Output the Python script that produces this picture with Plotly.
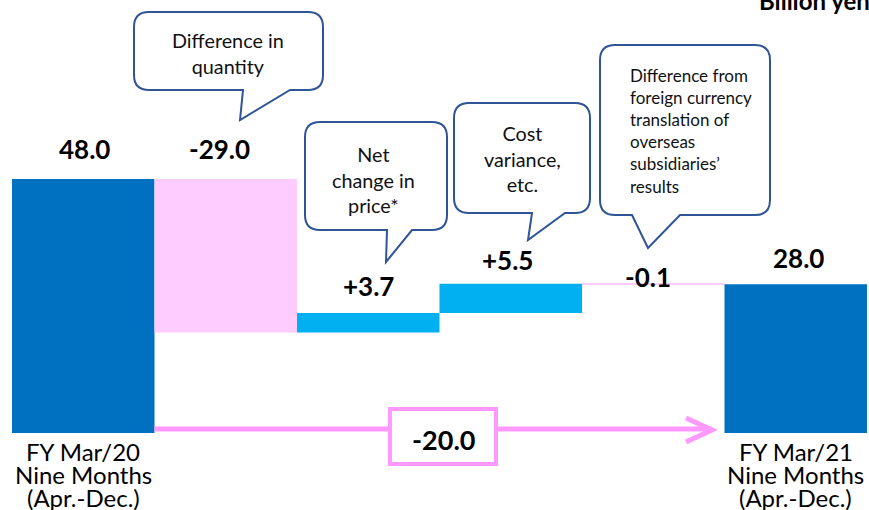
import plotly.graph_objects as go

# ---------------- data ----------------
categories = ["FY Mar/20|Nine Months|(Apr.-Dec.)", "Difference in quantity",
              "Net change in price*", "Cost variance, etc.",
              "Difference from foreign currency translation", "FY Mar/21|Nine Months|(Apr.-Dec.)"]
values = [48.0, -29.0, 3.7, 5.5, -0.1, 28.0]
measures = ["absolute", "relative", "relative", "relative", "relative", "total"]
value_labels = ["48.0", "-29.0", "+3.7", "+5.5", "-0.1", "28.0"]
total_change = "-20.0"
unit_label = "Billion yen"
callout_texts = ["Difference in<br>quantity",
                 "Net<br>change in<br>price*",
                 "Cost<br>variance,<br>etc.",
                 "Difference from<br>foreign currency<br>translation of<br>overseas<br>subsidiaries’<br>results"]

DARK = "#0070C0"
LIGHT = "#00B0F0"
PINK = "#FFCCFF"
ARROW = "#FF99FF"
EDGE = "#2F5597"
FONT = "Lato"

W, H = 869, 510
ML, MR = 12, 2
PW = W - ML - MR
YMIN, YMAX = -14.55, 81.85

def px(xp):
    return (xp - ML) / PW

def py(yp):
    return (H - yp) / H

fig = go.Figure()
fig.add_trace(go.Waterfall(
    x=list(range(len(values))), y=values, measure=measures,
    increasing=dict(marker=dict(color=LIGHT, line=dict(width=0))),
    decreasing=dict(marker=dict(color=PINK, line=dict(width=0))),
    totals=dict(marker=dict(color=DARK, line=dict(width=0))),
    connector=dict(visible=False), width=[1.0] * 6,
    hoverinfo="skip", showlegend=False,
))

# cumulative tops for labels
tops = []
run = 0.0
for v, m in zip(values, measures):
    if m == "absolute":
        prev, run = 0.0, v
    elif m == "total":
        prev = 0.0
    else:
        prev, run = run, run + v
    tops.append(max(prev, run))

yshifts = [30, 30, 27, 24, 7, 26]
xshifts = [1, -6, 0, -3, -5, 3]
annotations = []
for i, (t, lab) in enumerate(zip(tops, value_labels)):
    annotations.append(dict(x=i, y=t, xref="x", yref="y", text="<b>%s</b>" % lab,
                            showarrow=False, xanchor="center", yanchor="middle",
                            yshift=yshifts[i], xshift=xshifts[i],
                            font=dict(family=FONT, size=26, color="black")))

# bottom category labels (one annotation per line for tight line spacing)
line_y = [451, 474, 497]
for i in (0, 5):
    for k, ln in enumerate(categories[i].split("|")):
        annotations.append(dict(x=i, y=py(line_y[k]), xref="x", yref="paper", text=ln,
                                showarrow=False, xanchor="center", yanchor="middle",
                                font=dict(family=FONT, size=24, color="black")))

# unit label (partly cut by the top edge, as in the original)
annotations.append(dict(x=px(757), y=py(1), xref="paper", yref="paper", text="<b>%s</b>" % unit_label,
                        showarrow=False, xanchor="left", yanchor="middle",
                        font=dict(family=FONT, size=24, color="black")))

# callouts: (x0, y0, x1, y1, tail base left, tail base right, tip x, tip y)
callouts = [
    (134, 12, 323, 90, 243, 290, 240, 120),
    (305, 122, 447, 230, 387, 412, 386, 262),
    (454, 103, 590, 213, 532, 565, 528, 240),
    (600, 45, 770, 215, 632, 680, 648, 248),
]
shapes = []
r = 15
for (x0, y0, x1, y1, b1, b2, tx, ty) in callouts:
    pts = [
        ("M", [(x0 + r, y0)]),
        ("L", [(x1 - r, y0)]),
        ("Q", [(x1, y0), (x1, y0 + r)]),
        ("L", [(x1, y1 - r)]),
        ("Q", [(x1, y1), (x1 - r, y1)]),
        ("L", [(b2, y1)]),
        ("L", [(tx, ty)]),
        ("L", [(b1, y1)]),
        ("L", [(x0 + r, y1)]),
        ("Q", [(x0, y1), (x0, y1 - r)]),
        ("L", [(x0, y0 + r)]),
        ("Q", [(x0, y0), (x0 + r, y0)]),
    ]
    path = ""
    for cmd, ps in pts:
        path += cmd + " " + " ".join("%.5f,%.5f" % (px(a), py(b)) for a, b in ps) + " "
    path += "Z"
    shapes.append(dict(type="path", path=path, xref="paper", yref="paper",
                       line=dict(color=EDGE, width=2), fillcolor="white", layer="above"))

# callout texts
ctext_pos = [(228, 53, "center", 19.8), (373, 179, "center", 19.8), (522, 158, "center", 19.8),
             (628, 131, "left", 17)]
for txt, (cx, cy, al, fs) in zip(callout_texts, ctext_pos):
    annotations.append(dict(x=px(cx), y=py(cy), xref="paper", yref="paper", text=txt,
                            showarrow=False, xanchor=al, yanchor="middle", align=al,
                            font=dict(family=FONT, size=fs, color="#111111")))

# total change arrow
ay = 0.75
shapes.append(dict(type="line", xref="x", yref="y", x0=0.5, x1=4.41, y0=ay, y1=ay,
                   line=dict(color=ARROW, width=5), layer="above"))
shapes.append(dict(type="path", xref="paper", yref="paper",
                   path="M %.5f,%.5f L %.5f,%.5f L %.5f,%.5f" % (px(686), py(418), px(712), py(430), px(686), py(442)),
                   line=dict(color=ARROW, width=5), layer="above"))
shapes.append(dict(type="rect", xref="paper", yref="paper", x0=px(390), x1=px(496), y0=py(409), y1=py(464),
                   line=dict(color=ARROW, width=4), fillcolor="white", layer="above"))
annotations.append(dict(x=px(443), y=py(439), xref="paper", yref="paper", text="<b>%s</b>" % total_change,
                        showarrow=False, xanchor="center", yanchor="middle",
                        font=dict(family=FONT, size=27, color="black")))

fig.update_layout(
    width=W, height=H, margin=dict(l=ML, r=MR, t=0, b=0),
    paper_bgcolor="white", plot_bgcolor="white",
    xaxis=dict(range=[-0.5, 5.5], visible=False, fixedrange=True),
    yaxis=dict(range=[YMIN, YMAX], visible=False, fixedrange=True),
    bargap=0, shapes=shapes, annotations=annotations, showlegend=False,
)
fig.write_html("out.html")
